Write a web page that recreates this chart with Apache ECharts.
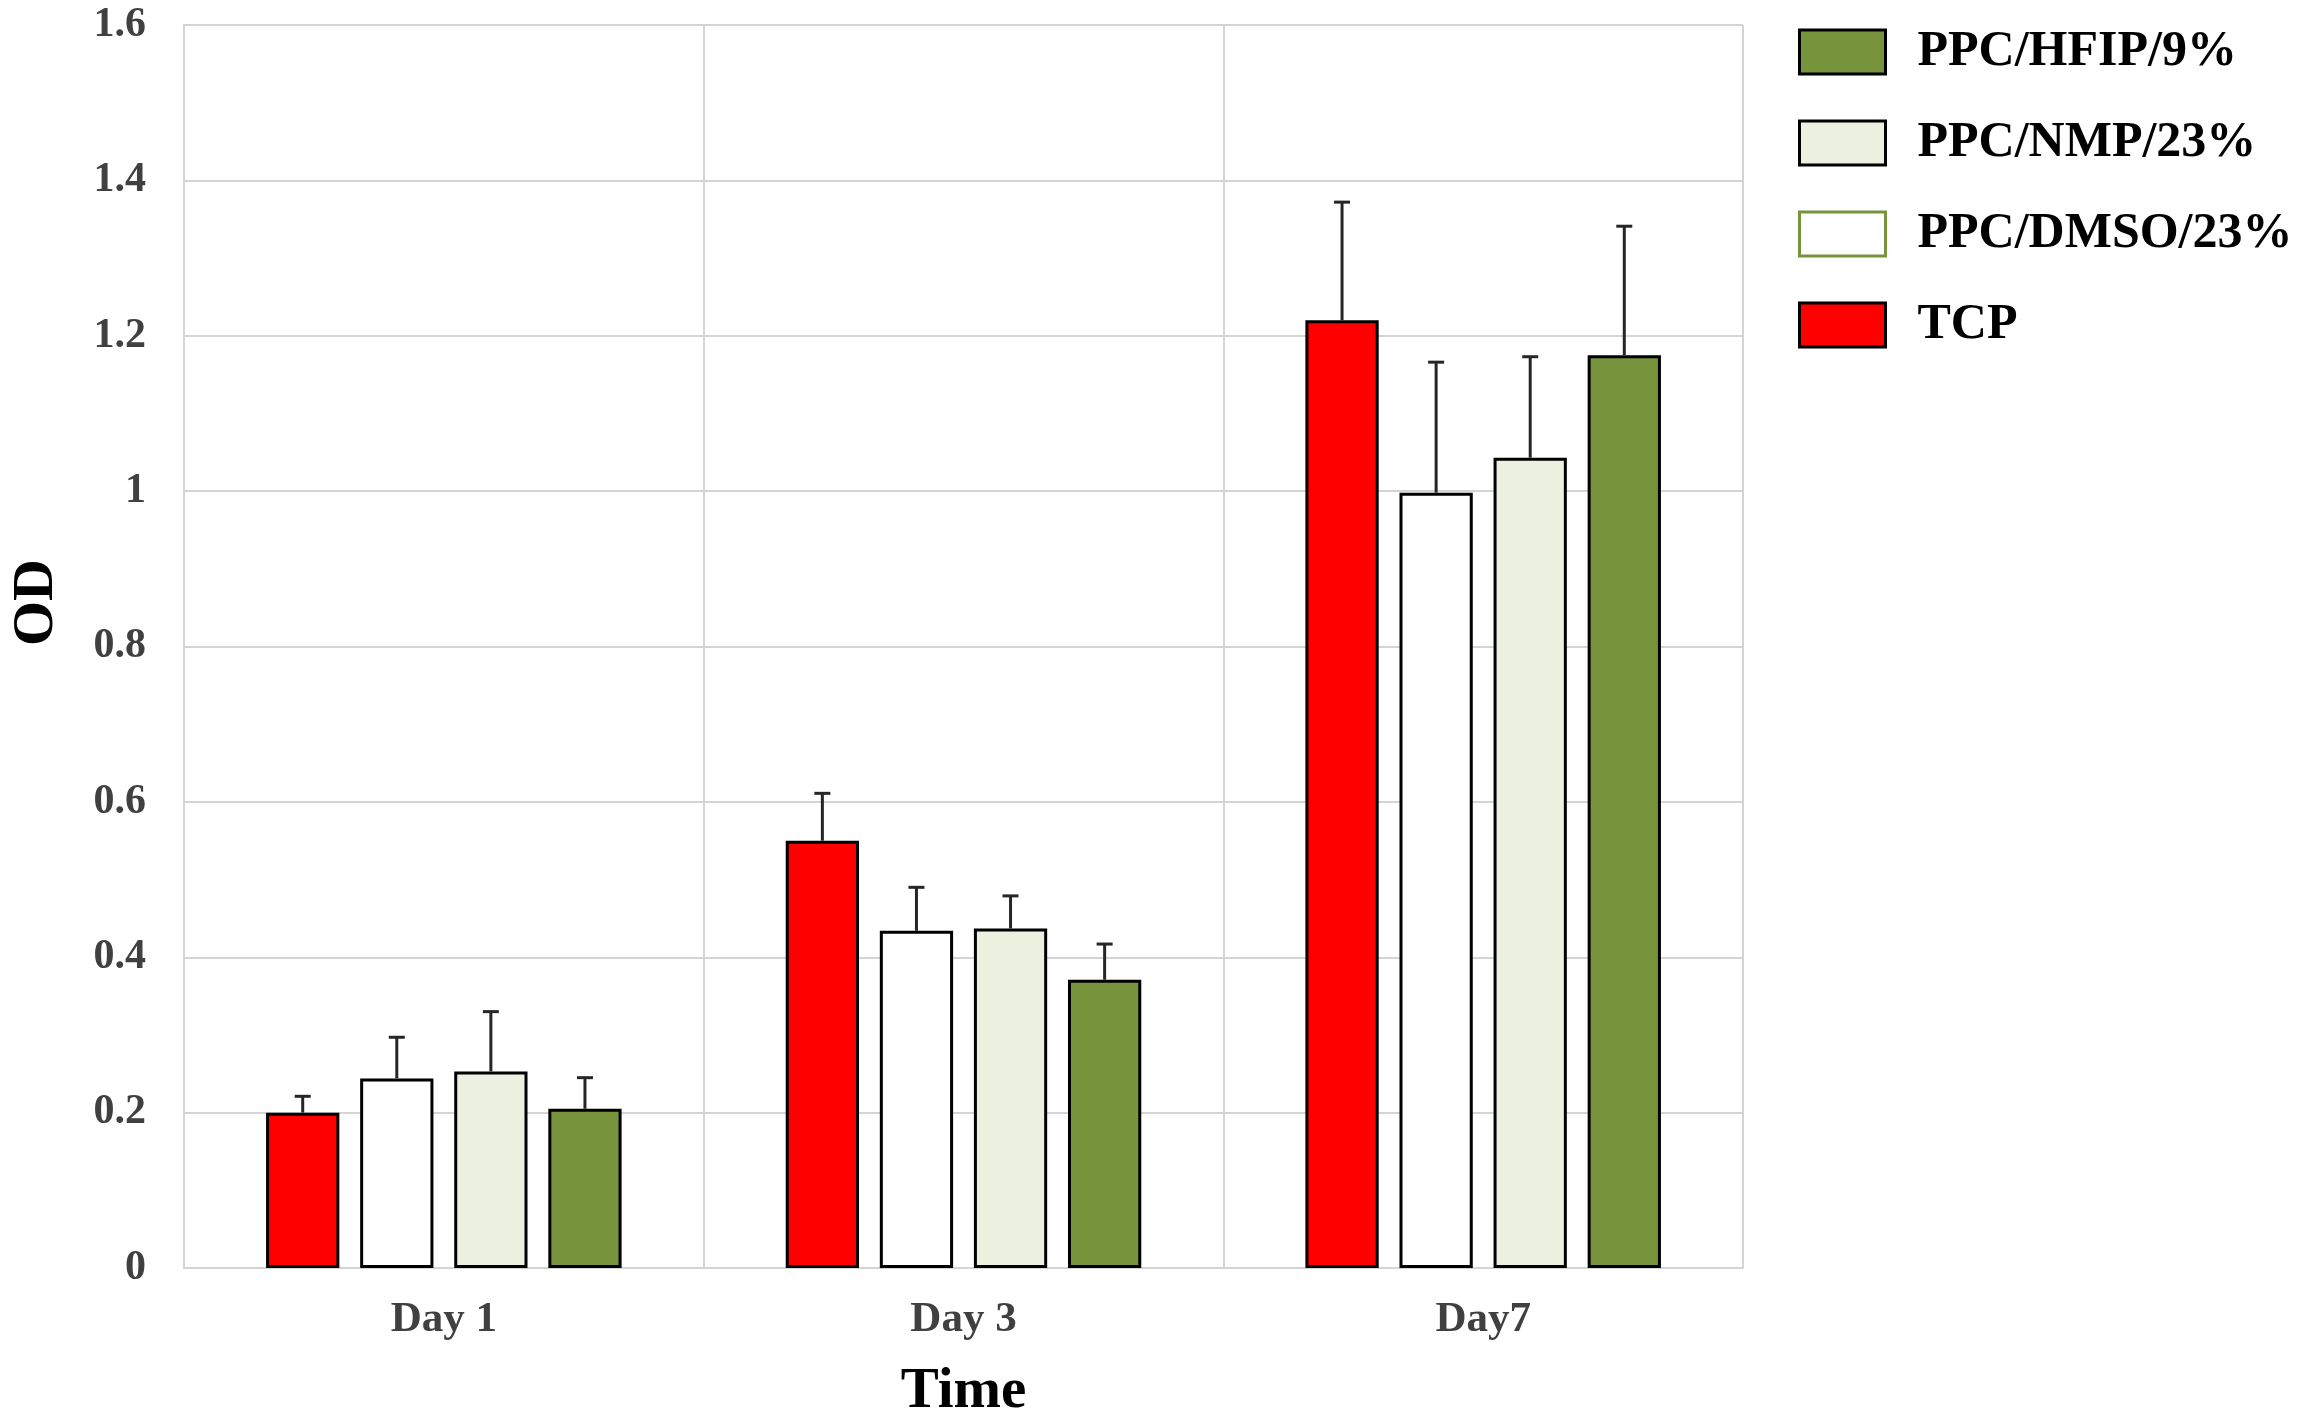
<!DOCTYPE html>
<html>
<head>
<meta charset="utf-8">
<script src="https://cdn.jsdelivr.net/npm/echarts@6/dist/echarts.min.js"></script>
<style>html,body{margin:0;padding:0;background:#fff;}#c{width:2300px;height:1426px;}</style>
</head>
<body>
<div id="c"></div>
<script>
const categories = ['Day 1', 'Day 3', 'Day7'];
const seriesNames = ['TCP', 'PPC/DMSO/23%', 'PPC/NMP/23%', 'PPC/HFIP/9%'];
const tcpMean  = [0.200, 0.550, 1.220];
const tcpSd    = [0.021, 0.061, 0.152];
const dmsoMean = [0.244, 0.434, 0.998];
const dmsoSd   = [0.053, 0.056, 0.168];
const nmpMean  = [0.253, 0.437, 1.043];
const nmpSd    = [0.077, 0.042, 0.130];
const hfipMean = [0.205, 0.371, 1.175];
const hfipSd   = [0.040, 0.046, 0.166];
const yTicks = { min: 0, max: 1.6, interval: 0.2 };

const means = [tcpMean, dmsoMean, nmpMean, hfipMean];
const sds = [tcpSd, dmsoSd, nmpSd, hfipSd];
const colors = ['#FF0000', '#FFFFFF', '#EBF1DE', '#77933C'];

const BAR_FRAC = 0.141;
const GAP_FRAC = 0.284;
const FONT = '"Liberation Serif", "Times New Roman", serif';
const GRID_COLOR = '#D4D4D4';

const chart = echarts.init(document.getElementById('c'), null, { renderer: 'canvas' });

const barSeries = seriesNames.map((name, i) => ({
  name: name,
  type: 'bar',
  data: means[i],
  barWidth: (BAR_FRAC * 100) + '%',
  barGap: (GAP_FRAC * 100) + '%',
  itemStyle: { color: colors[i], borderColor: '#000', borderWidth: 3 },
  z: 2
}));

const errSeries = seriesNames.map((name, i) => ({
  name: name + ' err',
  type: 'custom',
  z: 5,
  silent: true,
  data: means[i].map((m, k) => [k, m + sds[i][k], m]),
  encode: { x: 0, y: 1 },
  renderItem: function (params, api) {
    const band = api.size([1, 0])[0];
    const bw = band * BAR_FRAC;
    const step = bw * (1 + GAP_FRAC);
    const top = api.coord([api.value(0), api.value(1)]);
    const base = api.coord([api.value(0), api.value(2)]);
    const x = top[0] + (i - 1.5) * step;
    const st = { stroke: '#262626', lineWidth: 3 };
    return {
      type: 'group',
      children: [
        { type: 'line', shape: { x1: x, y1: base[1], x2: x, y2: top[1] }, style: st },
        { type: 'line', shape: { x1: x - 8, y1: top[1], x2: x + 8, y2: top[1] }, style: st }
      ]
    };
  }
}));

const option = {
  backgroundColor: '#fff',
  animation: false,
  grid: { left: 172, right: 557, top: 25, bottom: 145, containLabel: false },
  legend: {
    orient: 'vertical',
    left: 1793,
    top: 2,
    itemWidth: 86,
    itemHeight: 44,
    itemGap: 1,
    icon: 'rect',
    itemStyle: { borderWidth: 3, borderColor: '#000' },
    textStyle: { fontFamily: FONT, fontWeight: 'bold', fontSize: 50, color: '#000', lineHeight: 50, padding: [0, 0, 40, 27] },
    data: [
      { name: 'PPC/HFIP/9%' },
      { name: 'PPC/NMP/23%' },
      { name: 'PPC/DMSO/23%', itemStyle: { borderColor: '#77933C', borderWidth: 3 } },
      { name: 'TCP' }
    ]
  },
  xAxis: {
    type: 'category',
    data: categories,
    name: 'Time',
    nameLocation: 'middle',
    nameGap: 96,
    nameTextStyle: { fontFamily: FONT, fontWeight: 'bold', fontSize: 57, color: '#000' },
    axisLine: { show: true, lineStyle: { color: GRID_COLOR, width: 2 } },
    axisTick: { show: false },
    axisLabel: { fontFamily: FONT, fontWeight: 'bold', fontSize: 43, color: '#404040', margin: 30 },
    splitLine: { show: true, lineStyle: { color: GRID_COLOR, width: 2 } }
  },
  yAxis: {
    type: 'value',
    min: yTicks.min,
    max: yTicks.max,
    interval: yTicks.interval,
    name: 'OD',
    nameLocation: 'middle',
    nameRotate: 90,
    nameGap: 118,
    nameTextStyle: { fontFamily: FONT, fontWeight: 'bold', fontSize: 58, color: '#000', padding: [0, 0, 0, 88] },
    axisLine: { show: true, lineStyle: { color: GRID_COLOR, width: 2 } },
    axisTick: { show: false },
    axisLabel: { fontFamily: FONT, fontWeight: 'bold', fontSize: 42, color: '#404040', margin: 38 },
    splitLine: { show: true, lineStyle: { color: GRID_COLOR, width: 2 } }
  },
  series: barSeries.concat(errSeries)
};

chart.setOption(option);
</script>
</body>
</html>
